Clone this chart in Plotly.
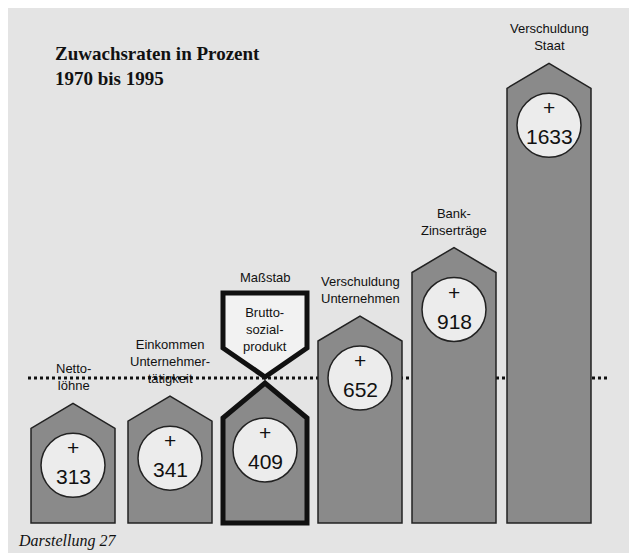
import plotly.graph_objects as go

labels = ["Netto-<br>löhne", "Einkommen<br>Unternehmer-<br>tätigkeit", "Maßstab",
          "Verschuldung<br>Unternehmen", "Bank-<br>Zinserträge", "Verschuldung<br>Staat"]
values = [313, 341, 409, 652, 918, 1633]

W, H = 637, 553
base = 515
centers = [65, 162, 257, 352, 446, 541]
half = 42
line_y = 370

def height(v):
    return 39 + 0.2576 * v

fig = go.Figure()
shapes, annotations = [], []

for i, (lab, v) in enumerate(zip(labels, values)):
    cx = centers[i]
    if i == 2:
        # reference column: hourglass with pointed halves meeting at the dotted line
        peak = line_y + 5
        sh = peak + 35
        shapes.append(dict(type="path",
                           path=f"M{cx-half},{base} L{cx-half},{sh} L{cx},{peak} L{cx+half},{sh} L{cx+half},{base} Z",
                           fillcolor="#8a8a8a", line=dict(color="#111", width=5)))
        top = 285
        shapes.append(dict(type="path",
                           path=f"M{cx-half},{top} L{cx+half},{top} L{cx+half},{top+55} L{cx},{peak-6} L{cx-half},{top+55} Z",
                           fillcolor="#f2f2f2", line=dict(color="#111", width=5)))
        annotations.append(dict(x=cx, y=top + 36, text="Brutto-<br>sozial-<br>produkt", showarrow=False,
                                font=dict(size=13, color="#111", family="Liberation Sans")))
        annotations.append(dict(x=cx, y=top - 16, text=lab, showarrow=False,
                                font=dict(size=13, color="#111", family="Liberation Sans")))
        cy = sh + 32
    else:
        peak = base - height(v)
        sh = peak + 25
        shapes.append(dict(type="path",
                           path=f"M{cx-half},{base} L{cx-half},{sh} L{cx},{peak} L{cx+half},{sh} L{cx+half},{base} Z",
                           fillcolor="#8a8a8a", line=dict(color="#222", width=1.5)))
        annotations.append(dict(x=cx, y=peak - 8, yanchor="bottom", text=lab, showarrow=False,
                                font=dict(size=13, color="#111", family="Liberation Sans")))
        cy = sh + 37
    r = 32
    shapes.append(dict(type="circle", x0=cx - r, x1=cx + r, y0=cy - r, y1=cy + r,
                       fillcolor="#ececec", line=dict(color="#222", width=1.5)))
    annotations.append(dict(x=cx, y=cy - 4, yanchor="bottom", text="+", showarrow=False,
                            font=dict(size=21, color="#111", family="Liberation Sans")))
    annotations.append(dict(x=cx, y=cy - 2, yanchor="top", text=str(v), showarrow=False,
                            font=dict(size=21, color="#111", family="Liberation Sans")))

shapes.insert(0, dict(type="line", x0=20, x1=600, y0=line_y, y1=line_y, layer="below",
                      line=dict(color="#111", width=3, dash="dot")))

annotations.append(dict(x=45, y=58, xanchor="left", text="<b>Zuwachsraten in Prozent<br>1970 bis 1995</b>",
                        showarrow=False, align="left",
                        font=dict(size=19, color="#111", family="Liberation Serif")))
annotations.append(dict(x=8, y=533, xanchor="left", text="<i>Darstellung 27</i>", showarrow=False,
                        font=dict(size=16, color="#111", family="Liberation Serif")))

fig.add_trace(go.Scatter(x=[0, W], y=[0, H], mode="markers", marker=dict(opacity=0), hoverinfo="skip"))
fig.update_layout(width=W, height=H, margin=dict(l=0, r=0, t=0, b=0),
                  paper_bgcolor="#e4e4e4", plot_bgcolor="#e4e4e4", showlegend=False,
                  shapes=shapes, annotations=annotations,
                  xaxis=dict(range=[0, W], visible=False, fixedrange=True),
                  yaxis=dict(range=[H, 0], visible=False, fixedrange=True))
fig.write_html("out.html")
